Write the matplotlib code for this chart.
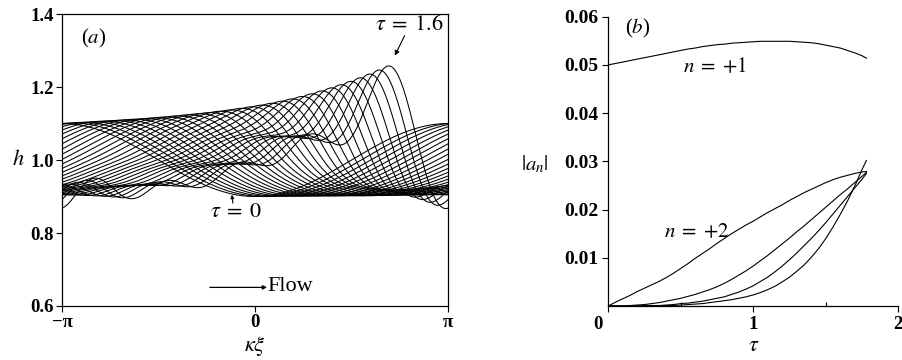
import numpy as np
import matplotlib.pyplot as plt
from matplotlib.transforms import ScaledTranslation

plt.rcParams['font.family'] = ['Liberation Serif', 'DejaVu Serif']
plt.rcParams['mathtext.fontset'] = 'stix'

# Fourier amplitudes |a_n| of the film height against time tau
tau = np.array([0.00, 0.05, 0.10, 0.15, 0.20, 0.25, 0.30, 0.35, 0.40, 0.45,
                0.50, 0.55, 0.60, 0.65, 0.70, 0.75, 0.80, 0.85, 0.90, 0.95,
                1.00, 1.05, 1.10, 1.15, 1.20, 1.25, 1.30, 1.35, 1.40, 1.45,
                1.50, 1.55, 1.60, 1.65, 1.70, 1.75, 1.78])
a1 = [0.0500, 0.0503, 0.0506, 0.0509, 0.0512, 0.0515, 0.0518, 0.0521, 0.0524, 0.0527,
      0.0530, 0.0533, 0.0535, 0.0538, 0.0540, 0.0542, 0.0543, 0.0545, 0.0546, 0.0547,
      0.0548, 0.0549, 0.0549, 0.0549, 0.0549, 0.0549, 0.0548, 0.0547, 0.0546, 0.0544,
      0.0541, 0.0538, 0.0535, 0.0530, 0.0525, 0.0519, 0.0514]
a2 = [0.0000, 0.0008, 0.0015, 0.0022, 0.0030, 0.0037, 0.0044, 0.0051, 0.0059, 0.0068,
      0.0078, 0.0088, 0.0099, 0.0109, 0.0119, 0.0130, 0.0140, 0.0150, 0.0159, 0.0168,
      0.0176, 0.0185, 0.0194, 0.0202, 0.0210, 0.0219, 0.0227, 0.0235, 0.0242, 0.0249,
      0.0256, 0.0262, 0.0267, 0.0271, 0.0275, 0.0278, 0.0279]
a3 = [0.0000, 0.0000, 0.0000, 0.0001, 0.0002, 0.0003, 0.0005, 0.0007, 0.0010, 0.0013,
      0.0016, 0.0020, 0.0024, 0.0029, 0.0034, 0.0040, 0.0047, 0.0055, 0.0064, 0.0073,
      0.0083, 0.0094, 0.0105, 0.0117, 0.0129, 0.0141, 0.0154, 0.0166, 0.0179, 0.0192,
      0.0205, 0.0218, 0.0231, 0.0243, 0.0256, 0.0269, 0.0277]
a4 = [0.0000, 0.0000, 0.0000, 0.0000, 0.0000, 0.0001, 0.0001, 0.0001, 0.0002, 0.0003,
      0.0005, 0.0006, 0.0008, 0.0010, 0.0013, 0.0016, 0.0019, 0.0024, 0.0029, 0.0035,
      0.0042, 0.0051, 0.0060, 0.0071, 0.0083, 0.0096, 0.0110, 0.0125, 0.0140, 0.0156,
      0.0173, 0.0191, 0.0209, 0.0227, 0.0245, 0.0263, 0.0275]
a5 = [0.0000, 0.0000, 0.0000, 0.0000, 0.0000, 0.0000, 0.0000, 0.0000, 0.0001, 0.0001,
      0.0002, 0.0003, 0.0004, 0.0005, 0.0007, 0.0009, 0.0011, 0.0013, 0.0016, 0.0019,
      0.0023, 0.0028, 0.0034, 0.0041, 0.0050, 0.0060, 0.0072, 0.0085, 0.0101, 0.0119,
      0.0140, 0.0164, 0.0190, 0.0218, 0.0249, 0.0283, 0.0302]
modes = [a1, a2, a3, a4, a5]

# profiles h(xi) drawn for tau = 0 ... 1.6
tau_last = 1.6
wave_speed = 2.93      # drift of the fundamental along kappa*xi
phase_lag = -0.9       # extra phase per harmonic, steepens the front

xi = np.linspace(-np.pi, np.pi, 1201)

fig = plt.figure(figsize=(9.03, 3.6), dpi=100)
axa = fig.add_axes([0.0687, 0.15, 0.4275, 0.811])
axb = fig.add_axes([0.6736, 0.15, 0.3212, 0.8036])

tick_font = dict(fontsize=13.5, fontweight='bold')

# (a) film height profiles
for i, t in enumerate(tau):
    if t > tau_last + 1e-9:
        break
    shift = -np.pi + wave_speed * t
    h = np.ones_like(xi)
    for n, amp in enumerate(modes, start=1):
        h += 2 * amp[i] * np.cos(n * (xi - shift) + phase_lag * (n - 1))
    axa.plot(xi, h, color='black', lw=0.75)

axa.set_xlim(-np.pi, np.pi)
axa.set_ylim(0.6, 1.4)
axa.set_xticks([-np.pi, 0, np.pi])
axa.set_xticklabels(['\u2212\u03c0', '0', '\u03c0'], **tick_font)
axa.set_yticks([0.6, 0.8, 1.0, 1.2, 1.4])
axa.set_yticklabels(['0.6', '0.8', '1.0', '1.2', '1.4'], **tick_font)
axa.tick_params(direction='out', length=4, width=0.8, pad=2)
for s in axa.spines.values():
    s.set_linewidth(0.9)

axa.text(-0.834 * np.pi, 1.333, '($a$)', fontsize=15, ha='center', va='center')
axa.text(0.80 * np.pi, 1.37, r'$\tau\;=\;1.6$', fontsize=16, ha='center', va='center')
axa.annotate('', xy=(0.724 * np.pi, 1.286), xytext=(0.775 * np.pi, 1.341),
             arrowprops=dict(arrowstyle='-|>', lw=0.8, color='black',
                             mutation_scale=7, shrinkA=0, shrinkB=0))
axa.text(-0.10 * np.pi, 0.856, r'$\tau\;=\;0$', fontsize=16, ha='center', va='center')
axa.annotate('', xy=(-0.12 * np.pi, 0.905), xytext=(-0.115 * np.pi, 0.882),
             arrowprops=dict(arrowstyle='-|>', lw=0.8, color='black',
                             mutation_scale=5, shrinkA=0, shrinkB=0))
axa.annotate('', xy=(0.062 * np.pi, 0.651), xytext=(-0.234 * np.pi, 0.651),
             arrowprops=dict(arrowstyle='-|>', lw=0.9, color='black',
                             mutation_scale=6, shrinkA=0, shrinkB=0))
axa.text(0.066 * np.pi, 0.654, 'Flow', fontsize=16, ha='left', va='center')
axa.set_xlabel(r'$\kappa\xi$', fontsize=16, labelpad=2)
axa.text(-0.112, 0.5, '$h$', transform=axa.transAxes, fontsize=16,
         fontweight='bold', ha='center', va='center')

# (b) amplitude of the first five harmonics
for amp in modes:
    axb.plot(tau, amp, color='black', lw=0.8)

axb.set_xlim(0, 2)
axb.set_ylim(0, 0.06)
axb.spines['top'].set_visible(False)
axb.spines['right'].set_visible(False)
for s in ('left', 'bottom'):
    axb.spines[s].set_linewidth(0.9)
axb.set_xticks([0, 1, 2])
axb.set_xticklabels(['0', '1', '2'], **tick_font)
axb.set_xticks([0.5, 1.5], minor=True)
axb.set_yticks([0.01, 0.02, 0.03, 0.04, 0.05, 0.06])
axb.set_yticklabels(['0.01', '0.02', '0.03', '0.04', '0.05', '0.06'],
                    fontsize=14, fontweight='bold')
axb.tick_params(direction='out', length=4, width=0.8, pad=3)
axb.tick_params(which='minor', direction='in', length=3, width=0.8)
zero_lbl = axb.get_xticklabels()[0]
zero_lbl.set_ha('right')
zero_lbl.set_transform(zero_lbl.get_transform()
                       + ScaledTranslation(-4 / 72, 0, fig.dpi_scale_trans))

axb.text(0.20, 0.0575, '($b$)', fontsize=15, ha='center', va='center')
axb.text(0.736, 0.0495, r'$n\;=\;{+}1$', fontsize=15, ha='center', va='center')
axb.text(0.61, 0.0152, r'$n\;=\;{+}2$', fontsize=15, ha='center', va='center')
axb.set_xlabel(r'$\tau$', fontsize=16, labelpad=3)
axb.text(-0.252, 0.49, r'$|a_n|$', transform=axb.transAxes, fontsize=15,
         ha='center', va='center')

fig.savefig('out.png', dpi=100)
